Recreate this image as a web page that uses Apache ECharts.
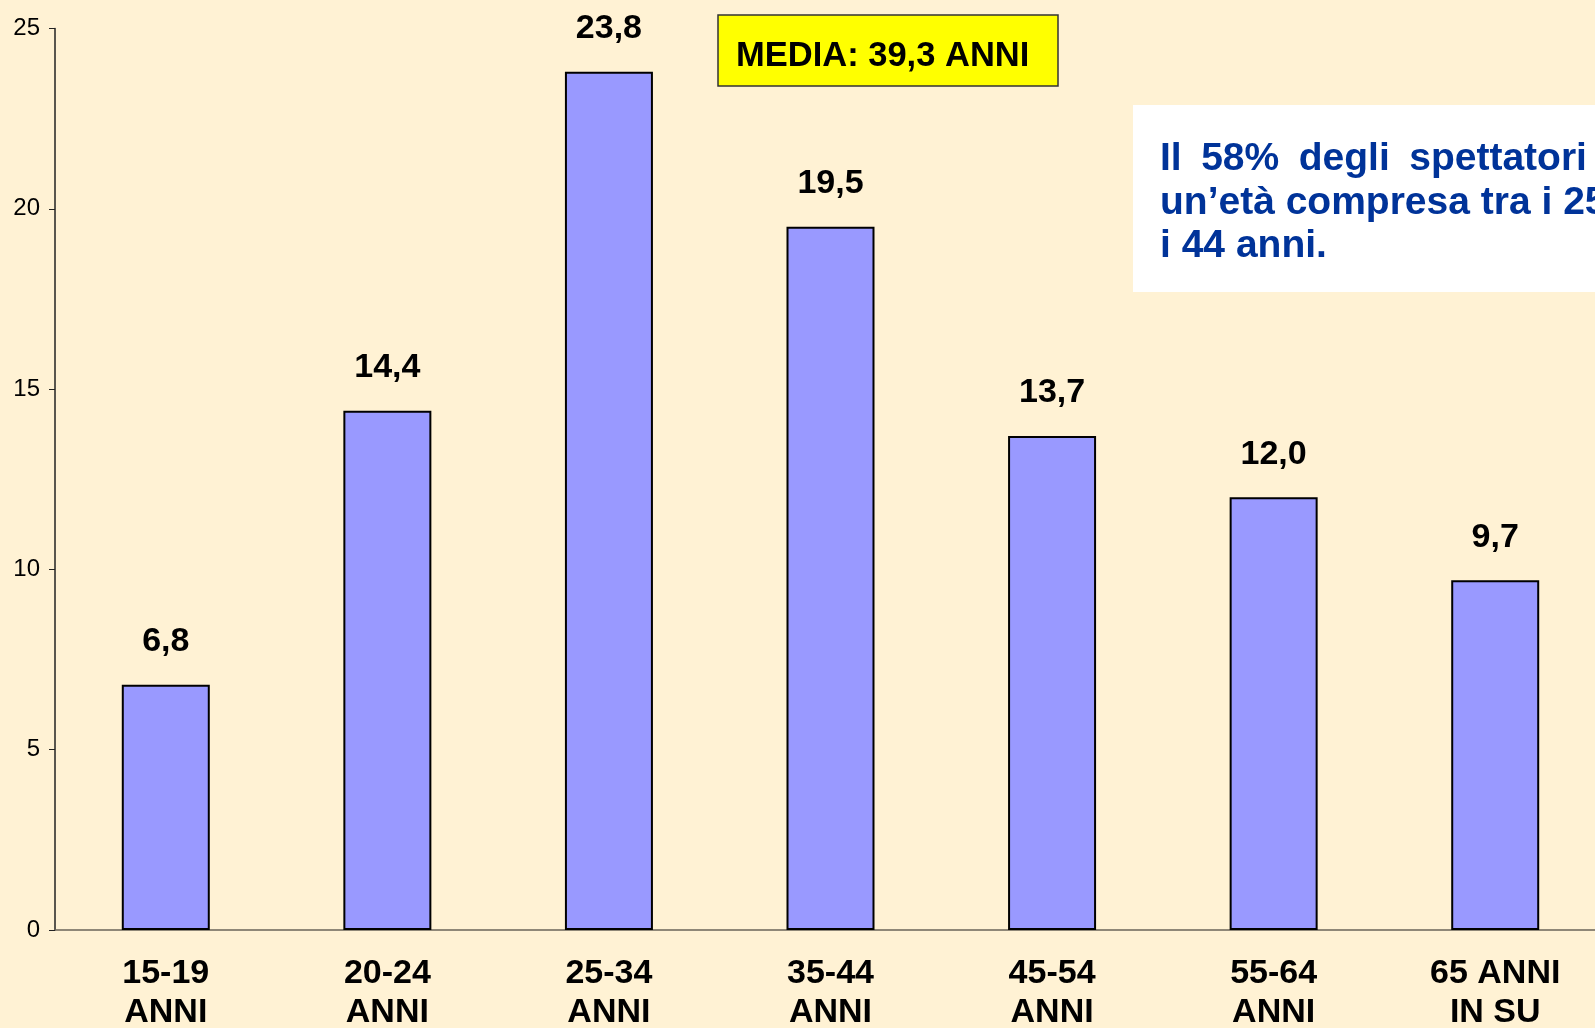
<!DOCTYPE html>
<html>
<head>
<meta charset="utf-8">
<title>Età degli spettatori</title>
<script src="https://cdn.jsdelivr.net/npm/echarts@6/dist/echarts.min.js"></script>
<style>
    html, body { margin: 0; padding: 0; background: #fff2d4; overflow: hidden; }
    /* il grafico è più largo della finestra: l'asse x esce dal bordo destro */
    #grafico { width: 1606px; height: 1028px; }
</style>
</head>
<body>
<div id="grafico"></div>
<script>
// dati
var fasce = ['15-19\nANNI', '20-24\nANNI', '25-34\nANNI', '35-44\nANNI', '45-54\nANNI', '55-64\nANNI', '65 ANNI\nIN SU'];
var percentuali = [6.8, 14.4, 23.8, 19.5, 13.7, 12.0, 9.7];
var assey = [0, 5, 10, 15, 20, 25];
var media = 'MEDIA: 39,3 ANNI';
var nota = ['Il\u200258%\u2002degli\u2002spettatori\u2002ha', 'un\u2019età compresa tra i 25 e', 'i 44 anni.'];

var font = '"Liberation Sans", Arial, Helvetica, sans-serif';
var myChart = echarts.init(document.getElementById('grafico'));

var option = {
    backgroundColor: '#fff2d4',
    animation: false,
    grid: { left: 55, top: 28.5, bottom: 98, right: 0, outerBoundsMode: 'none' },
    xAxis: {
        type: 'category',
        data: fasce,
        axisLine: { lineStyle: { color: '#6b6458', width: 1.5 } },
        axisTick: { length: 7, lineStyle: { color: '#333' } },
        axisLabel: {
            color: '#000', fontFamily: font, fontWeight: 'bold',
            fontSize: 34, lineHeight: 39, margin: 24
        }
    },
    yAxis: {
        type: 'value',
        min: assey[0],
        max: assey[assey.length - 1],
        interval: 5,
        splitLine: { show: false },
        axisLine: { show: true, lineStyle: { color: '#222', width: 1.5 } },
        axisTick: { show: true, length: 6, lineStyle: { color: '#222' } },
        axisLabel: { color: '#000', fontFamily: font, fontSize: 24, margin: 15 }
    },
    series: [{
        type: 'bar',
        data: percentuali,
        barWidth: 88,
        itemStyle: { color: '#9999ff', borderColor: '#000', borderWidth: 2 },
        label: {
            show: true,
            position: 'top',
            distance: 26,
            color: '#000',
            fontFamily: font,
            fontWeight: 'bold',
            fontSize: 34,
            formatter: function (p) {
                return p.value.toFixed(1).replace('.', ',');
            }
        }
    }],
    graphic: [
        {
            type: 'rect',
            shape: { x: 718, y: 15, width: 340, height: 71 },
            style: { fill: '#ffff00', stroke: '#333', lineWidth: 1.5 }
        },
        {
            type: 'text',
            x: 736, y: 56,
            style: {
                text: media, fill: '#000', font: 'bold 34.5px ' + font,
                verticalAlign: 'middle'
            }
        },
        {
            type: 'rect',
            shape: { x: 1133, y: 105, width: 480, height: 187 },
            style: { fill: '#ffffff' }
        },
        {
            type: 'text',
            x: 1160, y: 159,
            style: { text: nota[0], fill: '#003399', font: 'bold 39px ' + font, verticalAlign: 'middle' }
        },
        {
            type: 'text',
            x: 1160, y: 203,
            style: { text: nota[1], fill: '#003399', font: 'bold 39px ' + font, verticalAlign: 'middle' }
        },
        {
            type: 'text',
            x: 1160, y: 246,
            style: { text: nota[2], fill: '#003399', font: 'bold 39px ' + font, verticalAlign: 'middle' }
        }
    ]
};

myChart.setOption(option);
window.onresize = function () {
    myChart.resize();
};
</script>
</body>
</html>
